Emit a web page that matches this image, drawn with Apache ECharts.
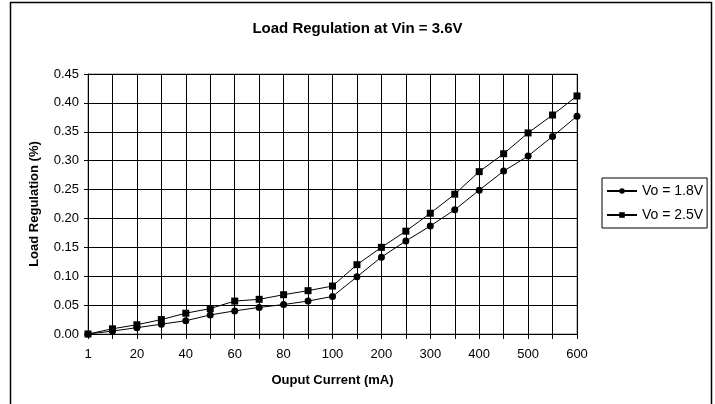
<!DOCTYPE html>
<html>
<head>
<meta charset="utf-8">
<script src="https://cdn.jsdelivr.net/npm/echarts@6/dist/echarts.min.js"></script>
<style>
  html, body { margin: 0; padding: 0; background: #fff; }
  #chart { width: 715px; height: 404px; }
</style>
</head>
<body>
<div id="chart"></div>
<script>
  const currents = ['1', '10', '20', '30', '40', '50', '60', '70', '80', '90', '100',
    '150', '200', '250', '300', '350', '400', '450', '500', '550', '600']
  const vo18 = [0, 0.005, 0.011, 0.017, 0.023, 0.033, 0.040, 0.046, 0.051, 0.057, 0.065,
    0.099, 0.133, 0.161, 0.187, 0.215, 0.249, 0.282, 0.308, 0.342, 0.377]
  const vo25 = [0, 0.009, 0.016, 0.025, 0.036, 0.044, 0.057, 0.060, 0.068, 0.075, 0.083,
    0.120, 0.150, 0.178, 0.209, 0.242, 0.281, 0.312, 0.348, 0.379, 0.412]

  const FONT = 'Liberation Sans, Arial, sans-serif'

  const chart = echarts.init(document.getElementById('chart'))

  chart.setOption({
    animation: false,
    title: {
      text: 'Load Regulation at Vin = 3.6V',
      left: 'center',
      top: 16,
      textStyle: { fontFamily: FONT, fontSize: 15, fontWeight: 'bold', color: '#000' }
    },
    graphic: [{
      type: 'rect',
      shape: { x: 10.5, y: 2.5, width: 701, height: 430 },
      style: { fill: 'none', stroke: '#000', lineWidth: 1.5 },
      silent: true
    }],
    legend: {
      orient: 'vertical',
      left: 602,
      top: 178,
      borderColor: '#000',
      borderWidth: 1,
      padding: [6, 4, 6, 4],
      itemGap: 10,
      itemWidth: 30,
      itemHeight: 7,
      textStyle: { fontFamily: FONT, fontSize: 14, color: '#000' },
      data: ['Vo = 1.8V', 'Vo = 2.5V']
    },
    grid: {
      left: 88,
      right: 138,
      top: 74,
      bottom: 70,
      show: true,
      borderColor: '#808080',
      borderWidth: 1
    },
    xAxis: {
      type: 'category',
      data: currents,
      boundaryGap: false,
      name: 'Ouput Current (mA)',
      nameLocation: 'middle',
      nameGap: 40,
      nameTextStyle: { fontFamily: FONT, fontSize: 13, fontWeight: 'bold', color: '#000' },
      axisLine: { lineStyle: { color: '#000', width: 1 } },
      axisTick: { show: true, interval: 0, length: 5, lineStyle: { color: '#000' } },
      axisLabel: { interval: 1, margin: 14, fontFamily: FONT, fontSize: 13, color: '#000' },
      splitLine: { show: true, interval: 0, lineStyle: { color: '#000', width: 1 } }
    },
    yAxis: {
      type: 'value',
      min: 0,
      max: 0.45,
      interval: 0.05,
      name: 'Load Regulation (%)',
      nameLocation: 'middle',
      nameGap: 47,
      nameTextStyle: { fontFamily: FONT, fontSize: 13, fontWeight: 'bold', color: '#000' },
      axisLine: { show: true, lineStyle: { color: '#000', width: 1 } },
      axisTick: { show: true, length: 4, lineStyle: { color: '#000' } },
      axisLabel: {
        margin: 9,
        fontFamily: FONT,
        fontSize: 13,
        color: '#000',
        formatter: (v) => v.toFixed(2)
      },
      splitLine: { show: true, lineStyle: { color: '#000', width: 1 } }
    },
    series: [
      {
        name: 'Vo = 1.8V',
        type: 'line',
        data: vo18,
        symbol: 'circle',
        symbolSize: 7,
        itemStyle: { color: '#000' },
        lineStyle: { color: '#000', width: 1 }
      },
      {
        name: 'Vo = 2.5V',
        type: 'line',
        data: vo25,
        symbol: 'rect',
        symbolSize: 7,
        itemStyle: { color: '#000' },
        lineStyle: { color: '#000', width: 1 }
      }
    ]
  })
</script>
</body>
</html>
